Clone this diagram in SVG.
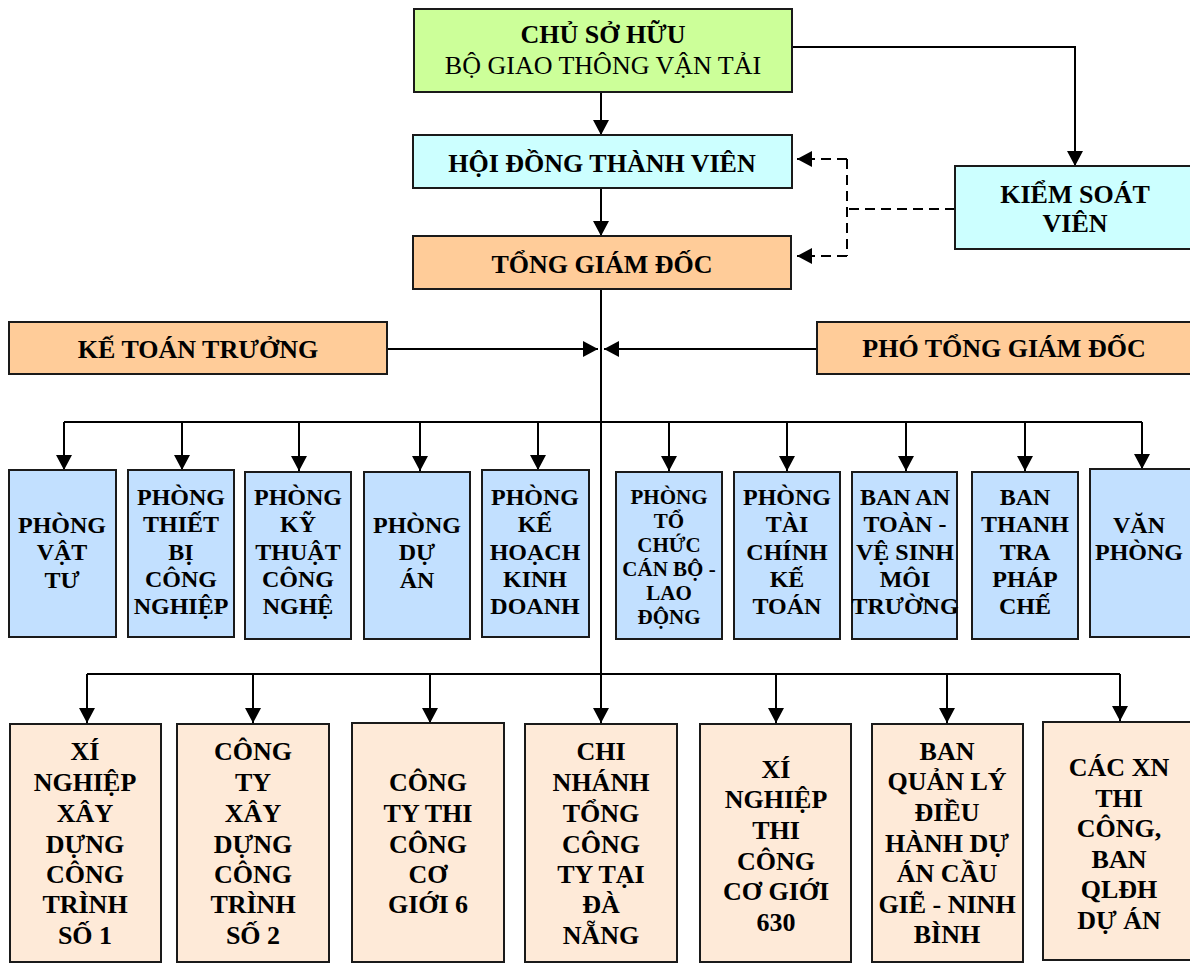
<svg xmlns="http://www.w3.org/2000/svg" width="1190" height="963" viewBox="0 0 1190 963">
<defs>
<style>
.box{stroke:#1a1a1a;stroke-width:2}
.g{fill:#ccff99}.c{fill:#ccffff}.p{fill:#ffcc99}.d{fill:#c2e0ff}.b{fill:#feead8}
text{font-family:"Liberation Serif","Times New Roman",serif;fill:#000;text-anchor:middle}
.t{font-weight:bold;font-size:26px}
.r{font-weight:normal;font-size:26px}
.s{font-weight:bold;font-size:24px}
.xs{font-weight:bold;font-size:21px}
.ln{stroke:#000;stroke-width:2;fill:none}
.ds{stroke:#000;stroke-width:2;fill:none;stroke-dasharray:10 6}
</style>
<marker id="ah" viewBox="0 0 15 16" refX="15" refY="8" markerWidth="15" markerHeight="16" markerUnits="userSpaceOnUse" orient="auto">
<path d="M0,0 L15,8 L0,16 z" fill="#000"/>
</marker>
</defs>

<g id="connectors">
<line class="ln" x1="601" y1="92" x2="601" y2="135" marker-end="url(#ah)"/>
<line class="ln" x1="601" y1="188" x2="601" y2="236" marker-end="url(#ah)"/>
<polyline class="ln" points="792,47 1075,47 1075,166" marker-end="url(#ah)"/>
<line class="ds" x1="955" y1="209" x2="847" y2="209"/>
<line class="ds" x1="847" y1="159" x2="847" y2="256"/>
<line class="ds" x1="847" y1="159" x2="797" y2="159" marker-end="url(#ah)"/>
<line class="ds" x1="847" y1="256" x2="797" y2="256" marker-end="url(#ah)"/>
<line class="ln" x1="601" y1="289" x2="601" y2="674"/>
<line class="ln" x1="387" y1="349" x2="598" y2="349" marker-end="url(#ah)"/>
<line class="ln" x1="817" y1="349" x2="604" y2="349" marker-end="url(#ah)"/>
<line class="ln" x1="64" y1="422" x2="1142" y2="422"/>
<line class="ln" x1="64" y1="422" x2="64" y2="470" marker-end="url(#ah)"/>
<line class="ln" x1="182" y1="422" x2="182" y2="470" marker-end="url(#ah)"/>
<line class="ln" x1="299" y1="422" x2="299" y2="471" marker-end="url(#ah)"/>
<line class="ln" x1="420" y1="422" x2="420" y2="471" marker-end="url(#ah)"/>
<line class="ln" x1="538" y1="422" x2="538" y2="470" marker-end="url(#ah)"/>
<line class="ln" x1="669" y1="422" x2="669" y2="471" marker-end="url(#ah)"/>
<line class="ln" x1="787" y1="422" x2="787" y2="471" marker-end="url(#ah)"/>
<line class="ln" x1="906" y1="422" x2="906" y2="471" marker-end="url(#ah)"/>
<line class="ln" x1="1025" y1="422" x2="1025" y2="471" marker-end="url(#ah)"/>
<line class="ln" x1="1142" y1="422" x2="1142" y2="469" marker-end="url(#ah)"/>
<line class="ln" x1="87" y1="674" x2="1120" y2="674"/>
<line class="ln" x1="87" y1="674" x2="87" y2="723" marker-end="url(#ah)"/>
<line class="ln" x1="253" y1="674" x2="253" y2="723" marker-end="url(#ah)"/>
<line class="ln" x1="430" y1="674" x2="430" y2="723" marker-end="url(#ah)"/>
<line class="ln" x1="601" y1="674" x2="601" y2="723" marker-end="url(#ah)"/>
<line class="ln" x1="776" y1="674" x2="776" y2="723" marker-end="url(#ah)"/>
<line class="ln" x1="947" y1="674" x2="947" y2="723" marker-end="url(#ah)"/>
<line class="ln" x1="1120" y1="674" x2="1120" y2="721" marker-end="url(#ah)"/>
</g>

<g id="chu-so-huu">
<rect class="box g" x="414" y="9" width="378" height="83"/>
<text class="t" x="603" y="43">CHỦ SỞ HỮU</text>
<text class="r" x="603" y="74">BỘ GIAO THÔNG VẬN TẢI</text>
</g>
<g id="hoi-dong">
<rect class="box c" x="413" y="135" width="379" height="53"/>
<text class="t" x="602" y="172">HỘI ĐỒNG THÀNH VIÊN</text>
</g>
<g id="tong-giam-doc">
<rect class="box p" x="413" y="236" width="378" height="53"/>
<text class="t" x="602" y="273">TỔNG GIÁM ĐỐC</text>
</g>
<g id="kiem-soat">
<rect class="box c" x="955" y="166" width="240" height="83"/>
<text class="t" x="1075" y="203">KIỂM SOÁT</text>
<text class="t" x="1075" y="232">VIÊN</text>
</g>
<g id="ke-toan-truong">
<rect class="box p" x="9" y="322" width="378" height="52"/>
<text class="t" x="198" y="358">KẾ TOÁN TRƯỞNG</text>
</g>
<g id="pho-tong">
<rect class="box p" x="817" y="322" width="380" height="52"/>
<text class="t" x="1004" y="357">PHÓ TỔNG GIÁM ĐỐC</text>
</g>

<g id="d1">
<rect class="box d" x="9" y="470" width="107" height="167"/>
<text class="s" x="62" y="533">PHÒNG</text><text class="s" x="62" y="560">VẬT</text><text class="s" x="62" y="588">TƯ</text>
</g>
<g id="d2">
<rect class="box d" x="128" y="470" width="106" height="167"/>
<text class="s" x="181" y="505">PHÒNG</text><text class="s" x="181" y="532">THIẾT</text><text class="s" x="181" y="560">BỊ</text><text class="s" x="181" y="587">CÔNG</text><text class="s" x="181" y="614">NGHIỆP</text>
</g>
<g id="d3">
<rect class="box d" x="245" y="472" width="106" height="167"/>
<text class="s" x="298" y="505">PHÒNG</text><text class="s" x="298" y="532">KỸ</text><text class="s" x="298" y="560">THUẬT</text><text class="s" x="298" y="587">CÔNG</text><text class="s" x="298" y="614">NGHỆ</text>
</g>
<g id="d4">
<rect class="box d" x="364" y="472" width="106" height="167"/>
<text class="s" x="417" y="533">PHÒNG</text><text class="s" x="417" y="560">DỰ</text><text class="s" x="417" y="588">ÁN</text>
</g>
<g id="d5">
<rect class="box d" x="482" y="470" width="107" height="167"/>
<text class="s" x="535" y="505">PHÒNG</text><text class="s" x="535" y="532">KẾ</text><text class="s" x="535" y="560">HOẠCH</text><text class="s" x="535" y="587">KINH</text><text class="s" x="535" y="614">DOANH</text>
</g>
<g id="d6">
<rect class="box d" x="616" y="472" width="106" height="167"/>
<text class="xs" x="669" y="504">PHÒNG</text><text class="xs" x="669" y="528">TỔ</text><text class="xs" x="669" y="552">CHỨC</text><text class="xs" x="669" y="576">CÁN BỘ -</text><text class="xs" x="669" y="600">LAO</text><text class="xs" x="669" y="624">ĐỘNG</text>
</g>
<g id="d7">
<rect class="box d" x="734" y="472" width="106" height="167"/>
<text class="s" x="787" y="505">PHÒNG</text><text class="s" x="787" y="532">TÀI</text><text class="s" x="787" y="560">CHÍNH</text><text class="s" x="787" y="587">KẾ</text><text class="s" x="787" y="614">TOÁN</text>
</g>
<g id="d8">
<rect class="box d" x="852" y="472" width="105" height="167"/>
<text class="s" x="905" y="505">BAN AN</text><text class="s" x="905" y="532">TOÀN -</text><text class="s" x="905" y="560">VỆ SINH</text><text class="s" x="905" y="587">MÔI</text><text class="s" x="905" y="614">TRƯỜNG</text>
</g>
<g id="d9">
<rect class="box d" x="972" y="472" width="106" height="167"/>
<text class="s" x="1025" y="505">BAN</text><text class="s" x="1025" y="532">THANH</text><text class="s" x="1025" y="560">TRA</text><text class="s" x="1025" y="587">PHÁP</text><text class="s" x="1025" y="614">CHẾ</text>
</g>
<g id="d10">
<rect class="box d" x="1090" y="469" width="110" height="168"/>
<text class="s" x="1139" y="533">VĂN</text><text class="s" x="1139" y="560">PHÒNG</text>
</g>

<g id="b1">
<rect class="box b" x="10" y="724" width="151" height="238"/>
<text class="t" x="85" y="760">XÍ</text><text class="t" x="85" y="791">NGHIỆP</text><text class="t" x="85" y="822">XÂY</text><text class="t" x="85" y="853">DỰNG</text><text class="t" x="85" y="883">CÔNG</text><text class="t" x="85" y="913">TRÌNH</text><text class="t" x="85" y="944">SỐ 1</text>
</g>
<g id="b2">
<rect class="box b" x="177" y="724" width="152" height="238"/>
<text class="t" x="253" y="760">CÔNG</text><text class="t" x="253" y="791">TY</text><text class="t" x="253" y="822">XÂY</text><text class="t" x="253" y="853">DỰNG</text><text class="t" x="253" y="883">CÔNG</text><text class="t" x="253" y="913">TRÌNH</text><text class="t" x="253" y="944">SỐ 2</text>
</g>
<g id="b3">
<rect class="box b" x="352" y="723" width="152" height="239"/>
<text class="t" x="428" y="791">CÔNG</text><text class="t" x="428" y="822">TY THI</text><text class="t" x="428" y="853">CÔNG</text><text class="t" x="428" y="883">CƠ</text><text class="t" x="428" y="913">GIỚI 6</text>
</g>
<g id="b4">
<rect class="box b" x="525" y="724" width="152" height="238"/>
<text class="t" x="601" y="760">CHI</text><text class="t" x="601" y="791">NHÁNH</text><text class="t" x="601" y="822">TỔNG</text><text class="t" x="601" y="853">CÔNG</text><text class="t" x="601" y="883">TY TẠI</text><text class="t" x="601" y="913">ĐÀ</text><text class="t" x="601" y="944">NẴNG</text>
</g>
<g id="b5">
<rect class="box b" x="700" y="724" width="151" height="238"/>
<text class="t" x="776" y="778">XÍ</text><text class="t" x="776" y="808">NGHIỆP</text><text class="t" x="776" y="839">THI</text><text class="t" x="776" y="870">CÔNG</text><text class="t" x="776" y="900">CƠ GIỚI</text><text class="t" x="776" y="931">630</text>
</g>
<g id="b6">
<rect class="box b" x="872" y="724" width="151" height="238"/>
<text class="t" x="947" y="760">BAN</text><text class="t" x="947" y="790">QUẢN LÝ</text><text class="t" x="947" y="821">ĐIỀU</text><text class="t" x="947" y="852">HÀNH DỰ</text><text class="t" x="947" y="882">ÁN CẦU</text><text class="t" x="947" y="913">GIẼ - NINH</text><text class="t" x="947" y="943">BÌNH</text>
</g>
<g id="b7">
<rect class="box b" x="1043" y="722" width="155" height="238"/>
<text class="t" x="1119" y="776">CÁC XN</text><text class="t" x="1119" y="807">THI</text><text class="t" x="1119" y="837">CÔNG,</text><text class="t" x="1119" y="868">BAN</text><text class="t" x="1119" y="898">QLĐH</text><text class="t" x="1119" y="929">DỰ ÁN</text>
</g>
</svg>
